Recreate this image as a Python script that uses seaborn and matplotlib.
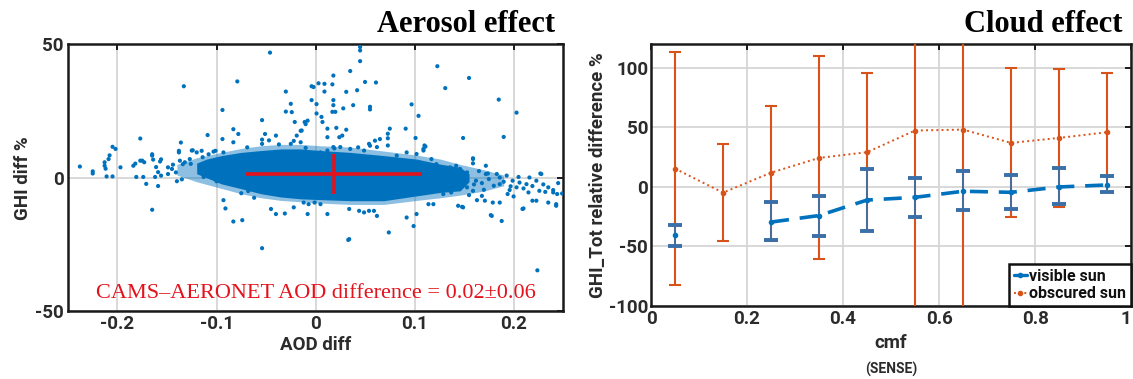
import matplotlib
matplotlib.use("Agg")
import numpy as np
import pandas as pd
import matplotlib.pyplot as plt
import seaborn as sns
from matplotlib.lines import Line2D

# ---------------- data: left panel (Aerosol effect) ----------------
# individual points (AOD diff, GHI diff %)
aod_pts = [
    -0.238, -0.225, -0.225, -0.213, -0.213, -0.209, -0.205, -0.202, -0.211, -0.205, -0.197, -0.184,
    -0.182, -0.177, -0.173, -0.165, -0.164, -0.157, -0.161, -0.159, -0.156, -0.162, -0.171, -0.159,
    -0.165, -0.181, -0.174, -0.149, -0.149, -0.144, -0.141, -0.137, -0.138, -0.134, -0.132, -0.127,
    -0.135, -0.140, -0.125, -0.120, -0.117, -0.114, -0.113, -0.110, -0.105, -0.103, -0.100,
    -0.177, -0.136, -0.138, -0.124, -0.115, -0.108, -0.101, -0.165, -0.156, -0.175, -0.208, -0.212,
    -0.145, -0.126, -0.109, -0.094, -0.083, -0.078, -0.054, -0.037, -0.022, -0.010,
    -0.093, -0.091, -0.083, -0.074, -0.075, -0.068, -0.062, -0.054, -0.045, -0.040, -0.031, -0.022,
    -0.008, -0.007, -0.001, 0.012, 0.005, -0.012, 0.034, 0.034, 0.044, 0.049, 0.054, 0.059,
    0.062, 0.074, 0.092, 0.099, 0.102, 0.114, 0.119,
    -0.054, -0.047, -0.025, -0.015, -0.069, -0.083, -0.093, -0.088, 0.129, 0.136, 0.142, 0.146,
    0.122, 0.117, 0.109, 0.110, 0.102, 0.092, 0.082, 0.073, 0.062, 0.054, 0.049, 0.035,
    0.025, 0.018, 0.012, 0.005,
    -0.046, -0.133, -0.079, -0.094, -0.030, -0.025, -0.030, -0.024, -0.004, -0.004, 0.003, -0.021,
    -0.011, -0.014, -0.019, -0.054, -0.051, -0.040, 0.045, 0.045, 0.045, 0.018, 0.035, -0.002,
    0.009, 0.009, 0.017, 0.031, 0.042, 0.050, 0.061, 0.001, 0.001, 0.006, 0.007, 0.012,
    0.018, 0.018, 0.017, 0.020, 0.028, 0.038, 0.055, 0.055, 0.097, 0.104, 0.123, 0.131,
    0.155, 0.185, 0.203, 0.149, 0.190, 0.091, 0.101, 0.075, 0.073, 0.073, 0.065, 0.060,
    0.055, 0.043, 0.031, 0.021, 0.027, 0.024, 0.012, 0.019, 0.111, 0.109, -0.010, -0.008, -0.015,
    0.159, 0.159, 0.172, 0.153, 0.146, 0.162, 0.172, 0.183, 0.186, 0.193, 0.199, 0.206,
    0.213, 0.219, 0.228, 0.226, 0.235, 0.240, 0.244, 0.235, 0.243, 0.219, 0.209, 0.194,
    0.186, 0.188, 0.178, 0.179, 0.171, 0.168, 0.159, 0.153, 0.149, 0.144, 0.142, 0.137,
    0.132, 0.129, 0.186, 0.203, 0.216, 0.223, 0.224, 0.210, 0.223, 0.243, 0.232, 0.240,
    0.249, 0.227, 0.159, 0.174, 0.163, 0.196, 0.177, 0.148, 0.033,
    0.165, 0.168, 0.175, 0.180, 0.190, 0.197, 0.205, 0.210, 0.215, 0.230, 0.245, 0.155,
    0.160, 0.170, 0.200,
]
ghi_pts = [
    4.2, 2.4, 1.6, 4.5, 5.8, 7.0, 11.6, 10.8, 0.5, 0.5, 3.9, 4.5,
    5.3, 6.4, 5.8, 8.3, 6.8, 6.1, 4.0, 2.1, 0.8, 0.3, -2.3, -3.1,
    -12.0, 0.3, 0.3, 3.9, 1.4, 4.9, 2.0, 6.4, 9.5, 5.1, 5.8, 7.0,
    -0.6, -1.3, 10.2, 9.5, 3.9, 7.7, 0.3, 2.8, 6.3, 9.8, -1.3,
    14.7, 13.2, 10.1, 10.3, 10.1, 8.8, 10.1, 8.8, 6.9, 6.4, 8.4, 3.4,
    3.3, 5.2, 16.0, 14.5, 18.2, 16.4, 14.3, 12.5, 13.8, 11.2,
    -8.4, -11.5, -16.4, -15.9, -5.8, -5.0, -7.5, -26.4, -11.7, -13.6, -13.4, -11.1,
    -13.6, -9.9, -9.3, -13.6, -9.9, -9.3, -11.7, -23.0, -12.4, -13.0, -12.4, -12.4,
    -14.3, -20.5, -14.9, -18.1, -13.6, -9.9, -9.9,
    12.7, 14.0, 12.7, 13.3, 11.4, 13.3, 9.5, 7.6, 3.3, 3.9, 4.5, 3.3,
    5.1, 7.0, 10.8, 12.1, 8.9, 9.5, 8.3, 12.1, 11.5, 12.7, 10.2, 10.8,
    11.5, 11.5, 10.2, 9.5,
    46.9, 34.3, 36.1, 25.4, 32.3, 27.7, 24.8, 24.6, 34.3, 29.1, 35.4, 20.9,
    20.9, 17.7, 15.8, 21.6, 16.4, 15.8, 49.0, 47.7, 43.7, 38.3, 40.0, 34.0,
    35.2, 32.3, 35.0, 32.2, 32.8, 35.9, 35.7, 27.6, 24.1, 22.8, 20.9, 18.4,
    29.1, 27.2, 24.7, 24.7, 26.0, 27.2, 26.6, 25.6, 27.5, 23.2, 41.8, 33.6,
    37.4, 29.3, 24.4, 14.9, 15.3, 18.4, 14.9, 18.4, 16.5, 14.8, 14.5, 13.9,
    12.0, 11.4, 18.0, 18.7, 15.8, 15.2, 15.2, 11.0, 11.7, 10.2, 20.1, 21.4, 17.6,
    7.0, 5.4, 4.5, 2.0, 0.1, -1.1, 1.4, 1.4, 0.1, 0.8, -1.1, -1.8,
    -2.4, -3.1, 1.4, -4.9, -3.6, -5.5, -6.1, -9.3, -10.5, -8.6, -11.7, -6.1,
    -9.3, -16.2, -14.3, -9.3, -8.6, -6.8, -4.9, -3.6, -11.1, -10.5, -3.6, -5.5,
    -2.4, -6.1, -2.4, -3.6, 0.1, -1.1, -34.7, -11.5, -8.6, -9.9, -5.3, -4.6,
    -5.9, 1.6, 7.3, 1.6, -8.4, -4.6, -14.0, -10.9, -23.3,
    2.5, -2.0, -0.5, -3.0, -1.5, -3.2, 0.3, -4.0, -5.5, -2.5, -2.0, -6.5,
    -2.5, -4.5, -7.0,
]
# envelope of the saturated (solid blue) core of the cloud
core_aod = [-0.120, -0.110, -0.095, -0.075, -0.055, -0.035, -0.015, 0.005, 0.035, 0.069, 0.102, 0.126, 0.146, 0.155]
core_hi = [5.5, 7.0, 8.3, 9.5, 10.2, 10.8, 10.8, 10.2, 9.5, 8.3, 7.0, 5.1, 3.9, 1.5]
core_lo = [1.5, 0.0, -2.3, -4.1, -6.0, -7.2, -7.9, -8.2, -8.6, -8.6, -6.8, -5.5, -4.9, -1.5]
# envelope of the looser (half-filled) halo around the core
halo_aod = [-0.140, -0.120, -0.095, -0.075, -0.055, -0.035, -0.015, 0.005, 0.035, 0.069, 0.102, 0.126, 0.146, 0.170, 0.190]
halo_hi = [5.0, 7.5, 9.5, 11.0, 12.0, 12.5, 12.5, 12.0, 11.5, 10.0, 8.5, 7.0, 5.0, 3.0, 1.0]
halo_lo = [1.0, -1.5, -4.0, -6.0, -7.5, -8.5, -9.0, -9.5, -10.0, -10.0, -8.5, -7.5, -6.5, -5.0, -3.0]
# red mean +/- spread cross
aod_mean, aod_spread = 0.019, 0.089
ghi_mean, ghi_spread = 1.5, 7.5

# ---------------- data: right panel (Cloud effect) ----------------
cmf = [0.05, 0.15, 0.25, 0.35, 0.45, 0.55, 0.65, 0.75, 0.85, 0.95]
vis_mean = [-40.0, np.nan, -29.5, -24.0, -11.0, -8.7, -3.6, -4.5, 0.0, 1.7]
vis_lo = [-49.6, np.nan, -44.9, -41.0, -37.3, -25.0, -19.4, -18.2, -14.6, -4.5]
vis_hi = [-32.0, np.nan, -12.9, -7.9, 15.0, 7.3, 13.0, 10.0, 15.7, 9.3]
obs_mean = [15.4, -4.8, 12.0, 24.4, 29.2, 47.4, 48.2, 37.0, 41.2, 46.0]
obs_lo = [-82.7, -45.7, -45.0, -60.6, -36.7, -180.0, -180.0, -25.2, -16.8, -3.9]
obs_hi = [113.0, 35.9, 68.4, 110.0, 95.4, 270.0, 270.0, 99.6, 99.0, 96.0]

BLUE = "#0072BD"
ORANGE = "#D95319"
RED = "#E3121B"
TXT = "#2b2b2b"

sns.set_theme(style="white")
plt.rcParams["font.family"] = ["Roboto", "DejaVu Sans"]
plt.rcParams["font.weight"] = "bold"
plt.rcParams["axes.labelweight"] = "bold"

fig = plt.figure(figsize=(11.33, 3.79), dpi=100)
fig.patch.set_facecolor("white")
ax1 = fig.add_axes([0.060, 0.179, 0.437, 0.704])
ax2 = fig.add_axes([0.5746, 0.1926, 0.4237, 0.691])


def style_axes(ax):
    for s in ax.spines.values():
        s.set_color("#1a1a1a")
        s.set_linewidth(1.8)
        s.set_visible(True)
    ax.grid(True, color="#d6d6d6", lw=1.3)
    ax.set_axisbelow(True)
    ax.tick_params(direction="in", top=True, right=True, length=4, width=1.4,
                   colors="#1a1a1a", labelcolor=TXT, labelsize=13.5, pad=3)
    for lab in ax.get_xticklabels() + ax.get_yticklabels():
        lab.set_fontweight("bold")


# ---------- left panel ----------
ax1.fill_between(halo_aod, halo_lo, halo_hi, color=BLUE, alpha=0.45, lw=0, zorder=2)
ax1.fill_between(core_aod, core_lo, core_hi, color=BLUE, lw=0, zorder=2)
df = pd.DataFrame({"AOD diff": aod_pts, "GHI diff %": ghi_pts})
sns.scatterplot(data=df, x="AOD diff", y="GHI diff %", ax=ax1, color=BLUE,
                s=9, edgecolor="none", linewidth=0, zorder=3)
ax1.errorbar([aod_mean], [ghi_mean], xerr=[aod_spread], yerr=[ghi_spread],
             fmt="none", ecolor=RED, elinewidth=2.6, capsize=0, zorder=5)
ax1.set_xlim(-0.25, 0.25)
ax1.set_ylim(-50, 50)
ax1.set_xticks([-0.2, -0.1, 0, 0.1, 0.2])
ax1.set_xticklabels(["-0.2", "-0.1", "0", "0.1", "0.2"])
ax1.set_yticks([-50, 0, 50])
ax1.set_yticklabels(["-50", "0", "50"])
style_axes(ax1)
ax1.set_xlabel("AOD diff", fontsize=13.5, color=TXT, labelpad=2)
ax1.set_ylabel("GHI diff %", fontsize=13.5, color=TXT, labelpad=2)
ax1.text(0.0, -43.2, "CAMS\u2013AERONET AOD difference = 0.02\u00b10.06",
         color=RED, fontsize=16, family="Liberation Serif", fontweight="normal",
         ha="center", va="center", zorder=6)

# ---------- right panel ----------
o_mean = np.array(obs_mean)
ax2.errorbar(cmf, obs_mean, yerr=[o_mean - np.array(obs_lo), np.array(obs_hi) - o_mean],
             color=ORANGE, ls=":", lw=1.4, marker=".", ms=6, elinewidth=1.5,
             capsize=4.5, capthick=1.5, zorder=3)
v_mean = np.array(vis_mean)
ax2.errorbar(cmf, vis_mean, yerr=[v_mean - np.array(vis_lo), np.array(vis_hi) - v_mean],
             color=BLUE, ls=(0, (5, 3)), lw=2.6, marker=".", ms=6, elinewidth=1.3,
             ecolor="#3a6fa8", capsize=5, capthick=2.8, zorder=4)
ax2.set_xlim(0, 1)
ax2.set_ylim(-100, 120)
ax2.set_xticks([0, 0.2, 0.4, 0.6, 0.8, 1.0])
ax2.set_xticklabels(["0", "0.2", "0.4", "0.6", "0.8", "1"])
ax2.set_yticks([-100, -50, 0, 50, 100])
ax2.set_yticklabels(["-100", "-50", "0", "50", "100"])
style_axes(ax2)
ax2.get_xticklabels()[-1].set_horizontalalignment("right")
ax2.tick_params(axis="y", pad=2)
ax2.set_xlabel("cmf", fontsize=13.5, color=TXT, labelpad=4)
ax2.set_ylabel("GHI_Tot relative difference %", fontsize=13.5, color=TXT, labelpad=1)
fig.text(0.5746 + 0.4237 / 2, 1 - 369 / 379, "(SENSE)", fontsize=10, fontweight="bold",
         color=TXT, ha="center", va="center")

handles = [
    Line2D([], [], color=BLUE, ls="-", lw=2.4, marker=".", ms=6),
    Line2D([], [], color=ORANGE, ls=":", lw=1.4, marker=".", ms=6),
]
leg = ax2.legend(handles, ["visible sun", "obscured sun"], loc="lower right",
                 bbox_to_anchor=(1.0, 0.0), borderaxespad=0.0, frameon=True,
                 fancybox=False, framealpha=1, edgecolor="#111111",
                 handlelength=0.8, handletextpad=0.15, labelspacing=0.15,
                 borderpad=0.3, prop={"family": "Roboto", "weight": "bold", "size": 11.5})
leg.get_frame().set_linewidth(1.8)
for t in leg.get_texts():
    t.set_color("#111111")

# ---------- panel titles ----------
fig.text(555 / 1133, 1 - 25 / 379, "Aerosol effect", family="Liberation Serif",
         fontweight="bold", fontsize=22, ha="right", va="center", color="black")
fig.text(1123 / 1133, 1 - 25 / 379, "Cloud effect", family="Liberation Serif",
         fontweight="bold", fontsize=22, ha="right", va="center", color="black")

fig.savefig("out.png", dpi=100, facecolor="white")
